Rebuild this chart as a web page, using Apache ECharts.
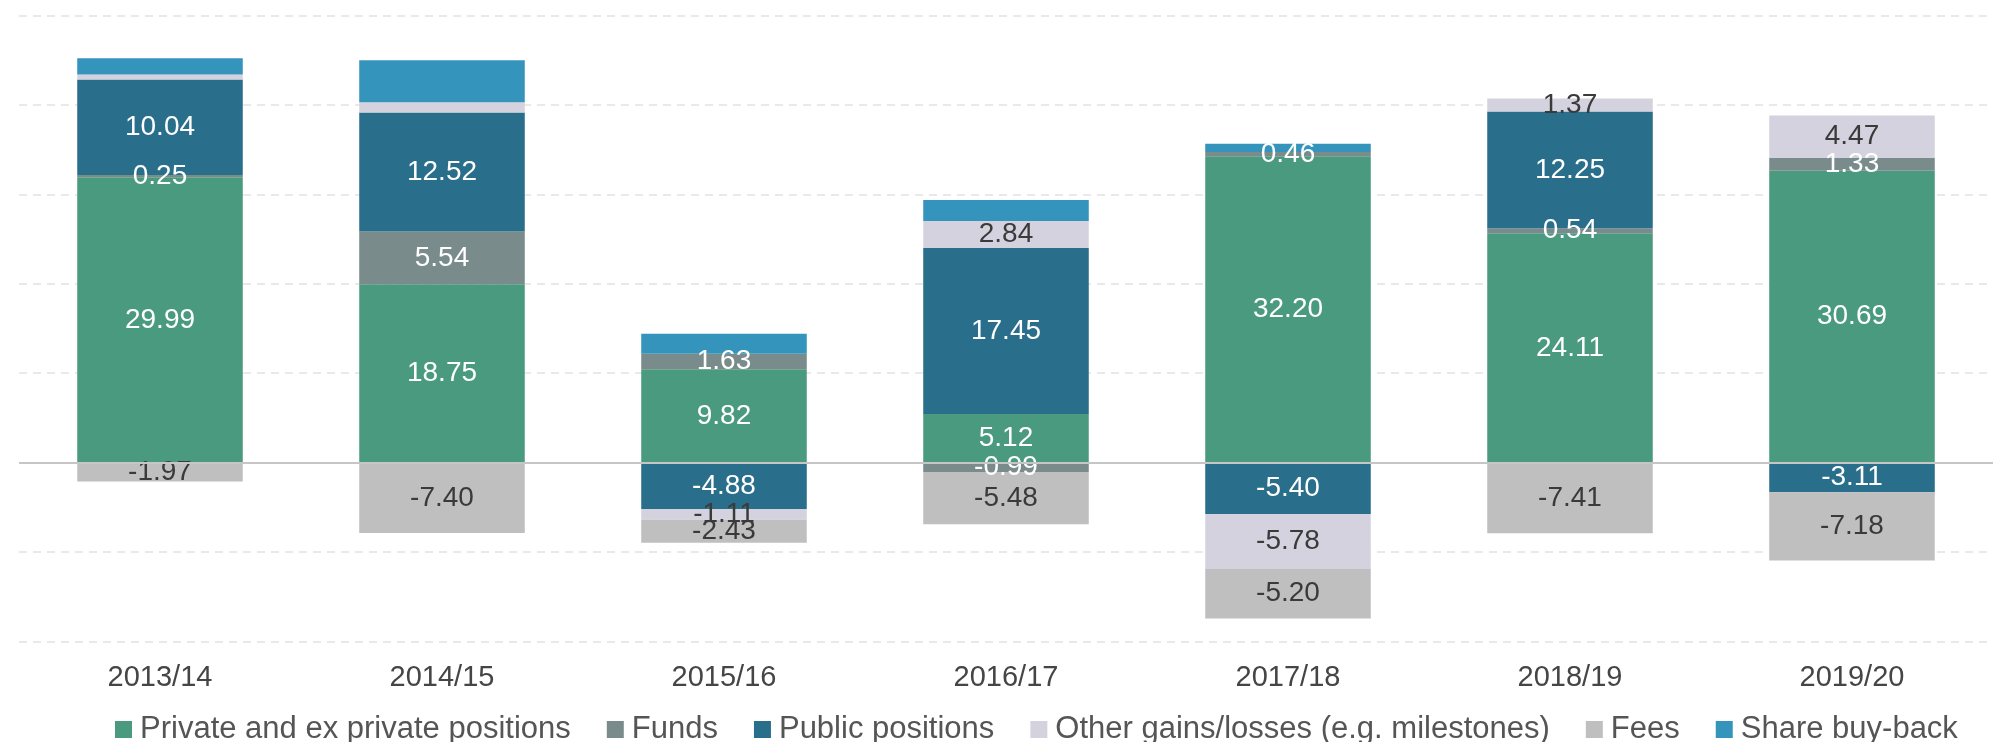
<!DOCTYPE html>
<html>
<head>
<meta charset="utf-8">
<script src="https://cdn.jsdelivr.net/npm/echarts@6/dist/echarts.min.js"></script>
<style>
  html, body { margin: 0; padding: 0; background: #ffffff; }
  #chart { width: 1993px; height: 742px; }
</style>
</head>
<body>
<div id="chart"></div>
<script>
// Value contributions per financial year
const years = ['2013/14', '2014/15', '2015/16', '2016/17', '2017/18', '2018/19', '2019/20'];
const privatePositions = [29.99, 18.75, 9.82, 5.12, 32.20, 24.11, 30.69];
const funds = [0.25, 5.54, 1.63, -0.99, 0.46, 0.54, 1.33];
const publicPositions = [10.04, 12.52, -4.88, 17.45, -5.40, 12.25, -3.11];
const otherGains = [0.53, 1.08, -1.11, 2.84, -5.78, 1.37, 4.47];
const fees = [-1.97, -7.40, -2.43, -5.48, -5.20, -7.41, -7.18];
const shareBuyBack = [1.7, 4.4, 2.1, 2.2, 0.86, null, null];
// years whose "other gains" segment carries no value label
const otherGainsUnlabelled = [0, 1];

const FONT = "'Liberation Sans', Arial, sans-serif";

function segmentSeries(name, values, color, labelColor, unlabelled) {
  return {
    name: name,
    type: 'bar',
    stack: 'total',
    barWidth: '58.7%',
    itemStyle: { color: color },
    label: {
      show: labelColor !== null,
      position: 'inside',
      color: labelColor || '#333',
      fontFamily: FONT,
      fontSize: 28,
      formatter: p => p.value.toFixed(2)
    },
    data: values.map((v, i) =>
      (unlabelled && unlabelled.indexOf(i) >= 0)
        ? { value: v, label: { show: false } }
        : v)
  };
}

const series = [
  segmentSeries('Private and ex private positions', privatePositions, '#4a9a80', '#ffffff'),
  segmentSeries('Funds', funds, '#7a8b8c', '#ffffff'),
  segmentSeries('Public positions', publicPositions, '#296e8a', '#ffffff'),
  segmentSeries('Other gains/losses (e.g. milestones)', otherGains, '#d4d2de', '#3a3a3a', otherGainsUnlabelled),
  segmentSeries('Fees', fees, '#bfbfbf', '#3a3a3a'),
  segmentSeries('Share buy-back', shareBuyBack, '#3594bb', null)
];

// solid zero baseline over the stacks
series[series.length - 1].markLine = {
  silent: true,
  symbol: 'none',
  label: { show: false },
  lineStyle: { color: '#c6c6c6', width: 2, type: 'solid' },
  emphasis: { disabled: true },
  data: [{ yAxis: 0 }]
};

const chart = echarts.init(document.getElementById('chart'), null, { renderer: 'canvas' });

chart.setOption({
  animation: false,
  backgroundColor: '#ffffff',
  grid: { left: 19, top: 15.5, width: 2002, height: 626 },
  legend: {
    left: 110,
    top: 709,
    icon: 'rect',
    itemWidth: 17,
    itemHeight: 17,
    itemGap: 36,
    textStyle: { fontFamily: FONT, fontSize: 31, color: '#555555', padding: [0, 0, 0, 3] },
    data: ['Private and ex private positions', 'Funds', 'Public positions',
           'Other gains/losses (e.g. milestones)', 'Fees', 'Share buy-back']
  },
  xAxis: {
    type: 'category',
    data: years,
    axisLine: { show: false, onZero: false },
    axisTick: { show: false },
    axisLabel: { fontFamily: FONT, fontSize: 29, color: '#454545', margin: 22 }
  },
  yAxis: {
    type: 'value',
    min: -18.8,
    max: 47,
    interval: 9.4,
    axisLine: { show: false },
    axisTick: { show: false },
    axisLabel: { show: false },
    splitLine: { lineStyle: { color: '#e2e2e2', width: 1.5, type: [8, 6] } }
  },
  series: series
});
</script>
</body>
</html>
